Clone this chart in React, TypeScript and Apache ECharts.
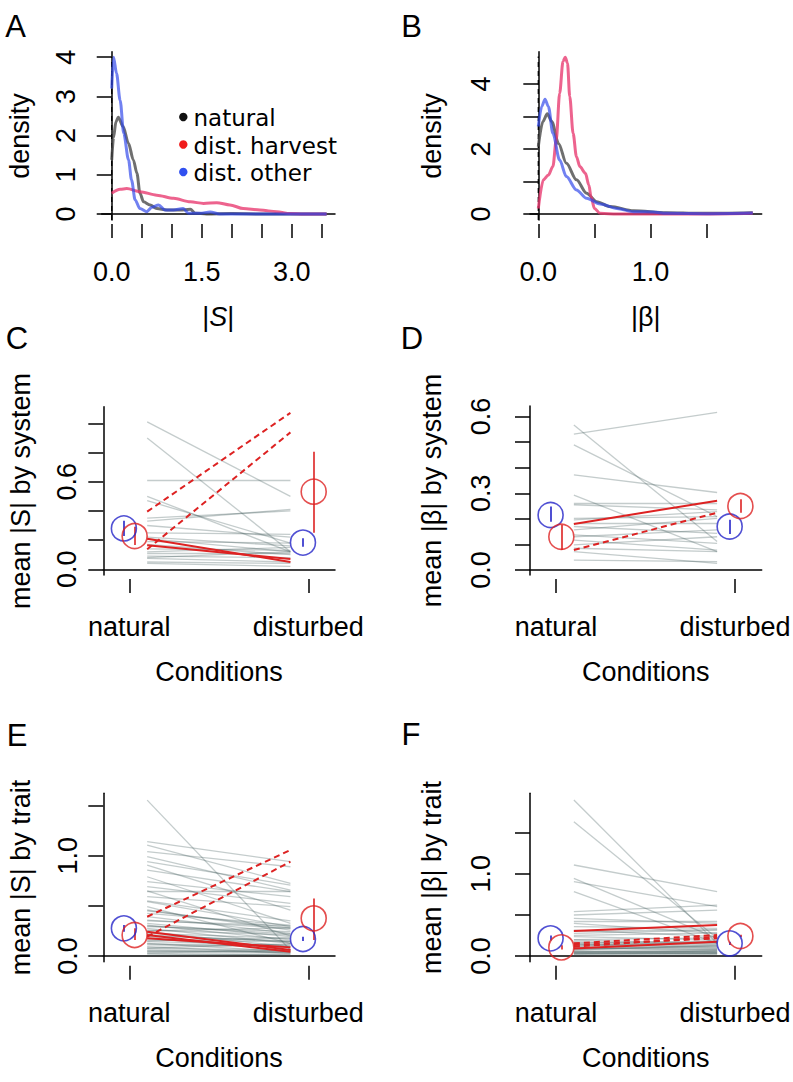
import React, { useEffect, useRef } from "react";
import * as echarts from "echarts";

const FONT = "'Liberation Sans', Arial, Helvetica, sans-serif";
const LEGEND_FONT = "'DejaVu Sans', 'Liberation Sans', sans-serif";

// ---------- Panel A: density of |S| ----------
const A_NATURAL: [number, number][] = [[0, 1.38], [0.03, 1.95], [0.07, 2.35], [0.11, 2.47], [0.19, 2.23], [0.28, 1.8], [0.36, 1.38], [0.42, 1.04], [0.47, 0.53], [0.53, 0.31], [0.64, 0.23], [0.75, 0.14], [0.92, 0.1], [1.14, 0.1], [1.31, 0.12], [1.39, 0.02], [1.58, 0.0], [2.0, 0.01], [2.5, 0.0], [3.0, 0.0], [3.58, 0.0]];
const A_HARVEST: [number, number][] = [[0, 0.53], [0.14, 0.63], [0.25, 0.65], [0.47, 0.57], [0.75, 0.48], [1.03, 0.4], [1.31, 0.31], [1.53, 0.27], [1.75, 0.29], [1.97, 0.23], [2.19, 0.14], [2.47, 0.1], [2.75, 0.06], [2.97, 0.01], [3.2, 0.0], [3.58, 0.0]];
const A_OTHER: [number, number][] = [[0, 3.2], [0.03, 4.0], [0.08, 3.59], [0.14, 2.9], [0.2, 2.06], [0.28, 1.38], [0.33, 0.87], [0.39, 0.36], [0.47, 0.14], [0.58, 0.06], [0.67, 0.17], [0.78, 0.23], [0.89, 0.1], [1.03, 0.1], [1.19, 0.14], [1.28, 0.02], [1.47, 0.02], [1.64, 0.05], [1.8, 0.0], [2.5, 0.0], [3.58, 0.0]];
const A_ZERO_LINE_TOP = 4.0;
const A_X_TICKS = [0, 0.5, 1, 1.5, 2, 2.5, 3, 3.5];
const A_X_LABELS = [0, 1.5, 3];
const A_Y_TICKS = [0, 1, 2, 3, 4];
const A_Y_LABELS = [0, 1, 2, 3, 4];
const LEGEND_LABELS = ["natural", "dist. harvest", "dist. other"];
const LEGEND_COLORS = ["#111111", "#f01c1c", "#3050f0"];

// ---------- Panel B: density of |beta| ----------
const B_NATURAL: [number, number][] = [[0, 2.07], [0.04, 2.84], [0.08, 3.08], [0.12, 2.84], [0.18, 2.17], [0.25, 1.56], [0.34, 1.05], [0.43, 0.64], [0.52, 0.38], [0.64, 0.23], [0.85, 0.1], [1.14, 0.04], [1.44, 0.02], [1.91, 0.04]];
const B_HARVEST: [number, number][] = [[0, 0.17], [0.045, 1.05], [0.09, 1.2], [0.13, 1.46], [0.16, 2.28], [0.19, 3.71], [0.22, 4.69], [0.24, 4.82], [0.26, 4.64], [0.28, 3.61], [0.31, 2.48], [0.34, 1.76], [0.37, 1.46], [0.42, 1.25], [0.45, 0.89], [0.47, 0.53], [0.5, 0.17], [0.55, 0.02], [0.7, 0.0], [1.0, 0.0], [1.5, 0.0], [1.91, 0.02]];
const B_OTHER: [number, number][] = [[0, 2.69], [0.03, 3.3], [0.06, 3.53], [0.09, 3.3], [0.13, 2.48], [0.19, 1.66], [0.25, 1.15], [0.34, 0.74], [0.43, 0.48], [0.55, 0.31], [0.7, 0.17], [0.85, 0.07], [1.02, 0.06], [1.14, 0.02], [1.5, 0.01], [1.91, 0.03]];
const B_ZERO_LINE_TOP = 4.84;
const B_X_TICKS = [0, 0.5, 1, 1.5];
const B_X_LABELS = [0, 1];
const B_Y_TICKS = [0, 1, 2, 3, 4];
const B_Y_LABELS = [0, 2, 4];

// ---------- Conditions axis ----------
const CONDITIONS = ["natural", "disturbed"];
const COND_TICKS = [1, 2];
const SEG_X = [1.1, 1.9]; // x of natural / disturbed end of each system line

// ---------- Panel C: mean |S| by system ----------
const C_GRAY_NAT = [1.01, 0.9, 0.61, 0.5, 0.47, 0.35, 0.33, 0.3, 0.25, 0.22, 0.21, 0.19, 0.17, 0.14, 0.11, 0.09, 0.075, 0.05, 0.04, 0.12, 0.08];
const C_GRAY_DIST = [0.5, 0.12, 0.61, 0.12, 0.18, 0.4, 0.41, 0.22, 0.24, 0.16, 0.12, 0.18, 0.1, 0.13, 0.11, 0.08, 0.05, 0.04, 0.02, 0.15, 0.12];
const C_RED_NAT = [0.21, 0.165];
const C_RED_DIST = [0.05, 0.07];
const C_REDDASH_NAT = [0.395, 0.137];
const C_REDDASH_DIST = [1.072, 0.938];
const C_OTHER_MEAN = [0.28, 0.183];
const C_OTHER_LO = [0.228, 0.155];
const C_OTHER_HI = [0.333, 0.212];
const C_HARV_MEAN = [0.228, 0.532];
const C_HARV_LO = [0.167, 0.251];
const C_HARV_HI = [0.292, 0.805];
const C_Y_TICKS = [0, 0.2, 0.4, 0.6, 0.8, 1.0];
const C_Y_LABELS = [0, 0.6];

// ---------- Panel D: mean |beta| by system ----------
const D_GRAY_NAT = [0.531, 0.567, 0.489, 0.372, 0.293, 0.261, 0.255, 0.202, 0.196, 0.183, 0.17, 0.157, 0.137, 0.13, 0.117, 0.098, 0.085, 0.072, 0.039];
const D_GRAY_DIST = [0.616, 0.111, 0.209, 0.303, 0.072, 0.261, 0.235, 0.209, 0.228, 0.183, 0.143, 0.202, 0.104, 0.157, 0.078, 0.13, 0.072, 0.026, 0.033];
const D_RED_NAT = [0.18];
const D_RED_DIST = [0.271];
const D_REDDASH_NAT = [0.078];
const D_REDDASH_DIST = [0.224];
const D_OTHER_MEAN = [0.215, 0.17];
const D_OTHER_LO = [0.189, 0.141];
const D_OTHER_HI = [0.248, 0.196];
const D_HARV_MEAN = [0.13, 0.25];
const D_HARV_LO = [0.078, 0.224];
const D_HARV_HI = [0.176, 0.277];
const D_Y_TICKS = [0, 0.1, 0.2, 0.3, 0.4, 0.5, 0.6];
const D_Y_LABELS = [0, 0.3, 0.6];

// ---------- Panel E: mean |S| by trait ----------
const E_GRAY_NAT = [1.556, 1.141, 1.107, 1.041, 0.991, 0.941, 0.908, 0.858, 0.791, 0.742, 0.692, 0.642, 0.592, 0.542, 0.492, 0.459, 0.426, 0.392, 0.359, 0.326, 0.309, 0.293, 0.276, 0.259, 0.243, 0.226, 0.21, 0.193, 0.176, 0.16, 0.143, 0.126, 0.11, 0.093, 0.076, 0.06, 0.043, 0.027, 0.01, 0.35, 0.3, 0.25, 0.2, 0.15, 0.12, 0.08, 0.05, 0.03, 0.65, 0.55, 0.45];
const E_GRAY_DIST = [0.06, 0.941, 0.725, 0.891, 0.658, 0.708, 0.459, 0.642, 0.326, 0.592, 0.525, 0.642, 0.492, 0.293, 0.126, 0.259, 0.309, 0.226, 0.276, 0.193, 0.16, 0.243, 0.126, 0.21, 0.093, 0.176, 0.143, 0.076, 0.06, 0.143, 0.11, 0.043, 0.093, 0.027, 0.06, 0.043, 0.033, 0.01, 0.02, 0.3, 0.22, 0.28, 0.15, 0.18, 0.1, 0.12, 0.04, 0.06, 0.2, 0.35, 0.28];
const E_RED_NAT = [0.243, 0.21, 0.176];
const E_RED_DIST = [0.06, 0.043, 0.086];
const E_REDDASH_NAT = [0.392, 0.193];
const E_REDDASH_DIST = [1.058, 0.941];
const E_OTHER_MEAN = [0.276, 0.17];
const E_OTHER_LO = [0.243, 0.15];
const E_OTHER_HI = [0.31, 0.193];
const E_HARV_MEAN = [0.21, 0.376];
const E_HARV_LO = [0.16, 0.16];
const E_HARV_HI = [0.276, 0.575];
const E_Y_TICKS = [0, 0.5, 1.0, 1.5];
const E_Y_LABELS = [0, 1.0];

// ---------- Panel F: mean |beta| by trait ----------
const F_GRAY_NAT = [1.897, 1.634, 1.107, 0.944, 0.904, 0.782, 0.539, 0.499, 0.458, 0.418, 0.397, 0.357, 0.316, 0.276, 0.235, 0.195, 0.174, 0.154, 0.134, 0.113, 0.093, 0.073, 0.053, 0.041, 0.032, 0.012, 0.3, 0.25, 0.2, 0.16, 0.14, 0.12, 0.1, 0.08, 0.06, 0.05, 0.04, 0.03, 0.02];
const F_GRAY_DIST = [0.154, 0.215, 0.782, 0.215, 0.6, 0.154, 0.62, 0.559, 0.397, 0.418, 0.276, 0.336, 0.235, 0.316, 0.195, 0.154, 0.134, 0.113, 0.174, 0.093, 0.073, 0.134, 0.053, 0.032, 0.041, 0.02, 0.32, 0.28, 0.22, 0.18, 0.1, 0.16, 0.08, 0.12, 0.05, 0.07, 0.03, 0.06, 0.04];
const F_RED_NAT = [0.304, 0.093];
const F_RED_DIST = [0.377, 0.174];
const F_REDDASH_NAT = [0.154, 0.134, 0.113];
const F_REDDASH_DIST = [0.255, 0.215, 0.235];
const F_OTHER_MEAN = [0.215, 0.154];
const F_OTHER_LO = [0.19, 0.135];
const F_OTHER_HI = [0.25, 0.175];
const F_HARV_MEAN = [0.105, 0.243];
const F_HARV_LO = [0.08, 0.23];
const F_HARV_HI = [0.13, 0.26];
const F_Y_TICKS = [0, 0.5, 1.0, 1.5];
const F_Y_LABELS = [0, 1.0];

// ---------- styling ----------
const COL_NAT_LINE = "rgba(70,70,70,0.78)";
const COL_HARV_LINE = "rgba(232,55,110,0.78)";
const COL_OTHER_LINE = "rgba(45,70,235,0.68)";
const COL_GRAY_SEG = "rgba(60,85,85,0.30)";
const COL_RED = "#dd2222";
const COL_BLUE = "#2424c8";
const OTHER_DX = -0.03;
const HARV_DX = 0.03;

type Panel = {
  left: number; top: number; width: number; height: number;
  xMin: number; xMax: number; yMin: number; yMax: number;
  xTicks: number[]; xLabels: number[]; xFmt: (v: number) => string;
  yTicks: number[]; yLabels: number[]; yFmt: (v: number) => string;
  yMargin: number;
};

const condFmt = (v: number) => CONDITIONS[Math.round(v) - 1] ?? "";
const fix1 = (v: number) => v.toFixed(1);
const int0 = (v: number) => String(Math.round(v));

const PANELS: Panel[] = [
  { left: 101.7, top: 51.7, width: 233.3, height: 168.3, xMin: -0.167, xMax: 3.72, yMin: -0.153, yMax: 4.14, xTicks: A_X_TICKS, xLabels: A_X_LABELS, xFmt: fix1, yTicks: A_Y_TICKS, yLabels: A_Y_LABELS, yFmt: int0, yMargin: 22.5 },
  { left: 530, top: 51.7, width: 231.7, height: 168.3, xMin: -0.074, xMax: 1.99, yMin: -0.185, yMax: 4.99, xTicks: B_X_TICKS, xLabels: B_X_LABELS, xFmt: fix1, yTicks: B_Y_TICKS, yLabels: B_Y_LABELS, yFmt: int0, yMargin: 35.5 },
  { left: 103.3, top: 406.7, width: 231.7, height: 168.3, xMin: 0.855, xMax: 2.149, yMin: -0.039, yMax: 1.114, xTicks: COND_TICKS, xLabels: COND_TICKS, xFmt: condFmt, yTicks: C_Y_TICKS, yLabels: C_Y_LABELS, yFmt: fix1, yMargin: 23 },
  { left: 530, top: 406, width: 231.7, height: 169, xMin: 0.855, xMax: 2.149, yMin: -0.0195, yMax: 0.641, xTicks: COND_TICKS, xLabels: COND_TICKS, xFmt: condFmt, yTicks: D_Y_TICKS, yLabels: D_Y_LABELS, yFmt: fix1, yMargin: 35.5 },
  { left: 103.3, top: 793.3, width: 231.7, height: 168.4, xMin: 0.855, xMax: 2.149, yMin: -0.057, yMax: 1.624, xTicks: COND_TICKS, xLabels: COND_TICKS, xFmt: condFmt, yTicks: E_Y_TICKS, yLabels: E_Y_LABELS, yFmt: fix1, yMargin: 21.5 },
  { left: 530, top: 793.3, width: 231.7, height: 168.4, xMin: 0.855, xMax: 2.149, yMin: -0.069, yMax: 1.979, xTicks: COND_TICKS, xLabels: COND_TICKS, xFmt: condFmt, yTicks: F_Y_TICKS, yLabels: F_Y_LABELS, yFmt: fix1, yMargin: 35.5 },
];

const AX_LINE = { color: "#000", width: 1.5 };
const LABEL_BASE = { fontSize: 27, fontFamily: FONT, color: "#000", lineHeight: 27 };

function buildOption() {
  const grid: any[] = [];
  const xAxis: any[] = [];
  const yAxis: any[] = [];
  const series: any[] = [];

  PANELS.forEach((p, i) => {
    grid.push({ left: p.left, top: p.top, width: p.width, height: p.height, containLabel: false, outerBoundsMode: "none" });
    xAxis.push({
      type: "value", gridIndex: i, position: "bottom", min: p.xMin, max: p.xMax,
      axisLine: { show: true, lineStyle: AX_LINE }, axisTick: { show: false }, axisLabel: { show: false }, splitLine: { show: false },
    });
    xAxis.push({
      type: "value", gridIndex: i, position: "bottom", offset: 4, min: p.xMin, max: p.xMax,
      axisLine: { show: false },
      axisTick: { show: true, inside: false, length: 14, customValues: p.xTicks, lineStyle: AX_LINE },
      axisLabel: { show: true, customValues: p.xLabels, formatter: p.xFmt, margin: 34, ...LABEL_BASE },
      splitLine: { show: false },
    });
    yAxis.push({
      type: "value", gridIndex: i, position: "left", min: p.yMin, max: p.yMax,
      axisLine: { show: true, lineStyle: AX_LINE },
      axisTick: { show: true, inside: false, length: 15, customValues: p.yTicks, lineStyle: AX_LINE },
      axisLabel: { show: true, rotate: 90, customValues: p.yLabels, formatter: p.yFmt, margin: p.yMargin, ...LABEL_BASE },
      splitLine: { show: false },
    });
  });

  const dens = (idx: number, data: [number, number][], color: string) => ({
    type: "line", xAxisIndex: idx * 2, yAxisIndex: idx, data, symbol: "none", showSymbol: false,
    smooth: 0.3, smoothMonotone: "x", lineStyle: { color, width: 3 }, silent: true, z: 3,
  });
  const zeroLine = (idx: number, top: number) => ({
    type: "line", xAxisIndex: idx * 2, yAxisIndex: idx, data: [[0, PANELS[idx].yMin], [0, top]],
    symbol: "none", lineStyle: { color: "#000", width: 1.3, type: [5, 4] }, silent: true, z: 2,
  });

  series.push(zeroLine(0, A_ZERO_LINE_TOP));
  series.push(dens(0, A_NATURAL, COL_NAT_LINE), dens(0, A_HARVEST, COL_HARV_LINE), dens(0, A_OTHER, COL_OTHER_LINE));
  series.push(zeroLine(1, B_ZERO_LINE_TOP));
  series.push(dens(1, B_NATURAL, COL_NAT_LINE), dens(1, B_HARVEST, COL_HARV_LINE), dens(1, B_OTHER, COL_OTHER_LINE));

  const segs = (idx: number, nat: number[], dist: number[], color: string, width: number, dashed: boolean, z: number) => ({
    type: "lines", coordinateSystem: "cartesian2d", xAxisIndex: idx * 2, yAxisIndex: idx,
    data: nat.map((v, k) => ({ coords: [[SEG_X[0], v], [SEG_X[1], dist[k]]] })),
    lineStyle: { color, width, type: dashed ? [6, 4] : "solid", opacity: 1 }, silent: true, z,
  });
  const means = (idx: number, mean: number[], lo: number[], hi: number[], dx: number, color: string) => [
    {
      type: "scatter", xAxisIndex: idx * 2, yAxisIndex: idx,
      data: mean.map((v, k) => [COND_TICKS[k] + dx, v]),
      symbol: "circle", symbolSize: 25,
      itemStyle: { color: "rgba(0,0,0,0)", borderColor: color, borderWidth: 1.6 }, silent: true, z: 6,
    },
    {
      type: "lines", coordinateSystem: "cartesian2d", xAxisIndex: idx * 2, yAxisIndex: idx,
      data: mean.map((_, k) => ({ coords: [[COND_TICKS[k] + dx, lo[k]], [COND_TICKS[k] + dx, hi[k]]] })),
      lineStyle: { color, width: 1.6, opacity: 1 }, silent: true, z: 6,
    },
  ];

  const panelData = [
    [C_GRAY_NAT, C_GRAY_DIST, C_RED_NAT, C_RED_DIST, C_REDDASH_NAT, C_REDDASH_DIST, C_OTHER_MEAN, C_OTHER_LO, C_OTHER_HI, C_HARV_MEAN, C_HARV_LO, C_HARV_HI],
    [D_GRAY_NAT, D_GRAY_DIST, D_RED_NAT, D_RED_DIST, D_REDDASH_NAT, D_REDDASH_DIST, D_OTHER_MEAN, D_OTHER_LO, D_OTHER_HI, D_HARV_MEAN, D_HARV_LO, D_HARV_HI],
    [E_GRAY_NAT, E_GRAY_DIST, E_RED_NAT, E_RED_DIST, E_REDDASH_NAT, E_REDDASH_DIST, E_OTHER_MEAN, E_OTHER_LO, E_OTHER_HI, E_HARV_MEAN, E_HARV_LO, E_HARV_HI],
    [F_GRAY_NAT, F_GRAY_DIST, F_RED_NAT, F_RED_DIST, F_REDDASH_NAT, F_REDDASH_DIST, F_OTHER_MEAN, F_OTHER_LO, F_OTHER_HI, F_HARV_MEAN, F_HARV_LO, F_HARV_HI],
  ];
  panelData.forEach((d, j) => {
    const idx = j + 2;
    series.push(segs(idx, d[0], d[1], COL_GRAY_SEG, 1.3, false, 2));
    series.push(segs(idx, d[2], d[3], COL_RED, 2, false, 4));
    series.push(segs(idx, d[4], d[5], COL_RED, 2, true, 4));
    series.push(...means(idx, d[6], d[7], d[8], OTHER_DX, COL_BLUE));
    series.push(...means(idx, d[9], d[10], d[11], HARV_DX, COL_RED));
  });

  const txt = (text: string, x: number, y: number, size: number, rotate = 0, extra: any = {}) => ({
    type: "text", x, y, rotation: rotate, silent: true,
    style: { text, fontSize: size, fontFamily: FONT, fill: "#000", align: "center", verticalAlign: "middle", ...extra },
  });
  const ROT = Math.PI / 2;
  const graphic: any[] = [
    txt("A", 15.7, 26, 31), txt("B", 411.7, 26, 31), txt("C", 17, 338, 31),
    txt("D", 412, 338, 31), txt("E", 17, 735, 31), txt("F", 411, 734, 31),
    txt("density", 20, 136, 27, ROT), txt("density", 431.7, 136, 27, ROT),
    txt("|{i|S}|", 218.3, 316.5, 27, 0, { rich: { i: { fontStyle: "italic", fontSize: 27, fontFamily: FONT, fill: "#000" } } }),
    txt("|β|", 645.8, 316.5, 27),
    txt("mean |S| by system", 20.8, 491, 27, ROT), txt("mean |β| by system", 431.5, 490.5, 27, ROT),
    txt("mean |S| by trait", 20.8, 877.5, 27, ROT), txt("mean |β| by trait", 431.5, 877.5, 27, ROT),
    txt("Conditions", 219, 671.5, 27), txt("Conditions", 645.8, 671.5, 27),
    txt("Conditions", 219, 1058, 27), txt("Conditions", 645.8, 1058, 27),
  ];
  const LEGEND_Y = [117, 144.5, 172];
  LEGEND_LABELS.forEach((label, k) => {
    graphic.push({ type: "circle", shape: { cx: 183.3, cy: LEGEND_Y[k], r: 4.2 }, style: { fill: LEGEND_COLORS[k] }, silent: true });
    graphic.push({ type: "text", x: 193.5, y: LEGEND_Y[k] + 1, silent: true, style: { text: label, fontSize: 23, lineHeight: 23, fontFamily: LEGEND_FONT, fill: "#000", align: "left", verticalAlign: "middle" } });
  });

  return { animation: false, backgroundColor: "#fff", textStyle: { fontFamily: FONT }, grid, xAxis, yAxis, series, graphic };
}

export default function App() {
  const ref = useRef<HTMLDivElement>(null);
  useEffect(() => {
    if (!ref.current) return;
    const chart = echarts.init(ref.current, null, { renderer: "svg" });
    chart.setOption(buildOption() as any);
    return () => chart.dispose();
  }, []);
  return <div ref={ref} style={{ position: "absolute", left: 0, top: 0, width: 793, height: 1082, background: "#fff" }} />;
}
